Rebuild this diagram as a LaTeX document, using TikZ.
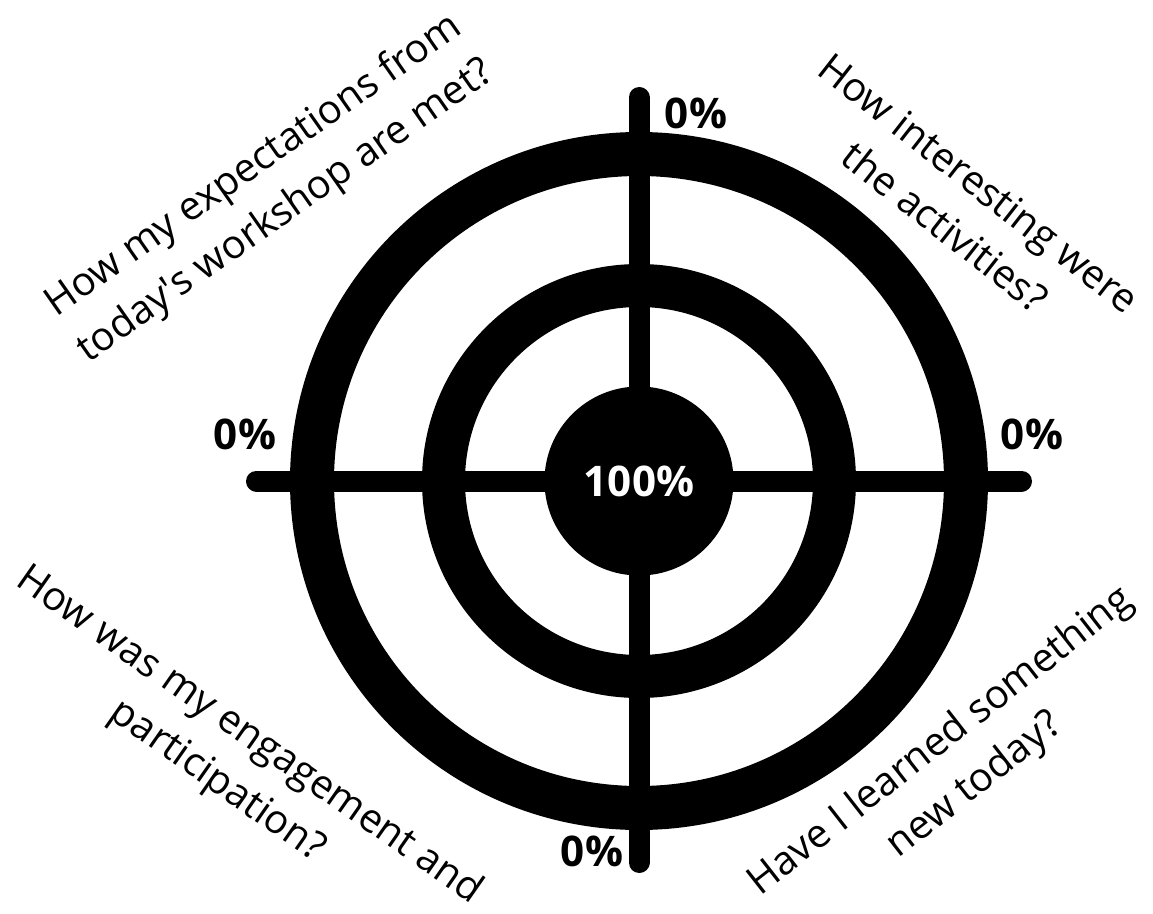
\documentclass[tikz,border=0pt]{standalone}
\usepackage{fontspec}
\setmainfont{Open Sans}
\usetikzlibrary{positioning}

\tikzset{
	question/.style={align=center, inner sep=0pt, font=\fontsize{28.3}{39.5}\selectfont},
	percent/.style={inner sep=0pt, font=\bfseries\fontsize{30}{36}\selectfont},
	ring/.style={draw, line width=#1},
	arm/.style={line width=0.525cm, line cap=round},
}

\begin{document}
\begin{tikzpicture}[x=0.025cm, y=-0.025cm]

	\useasboundingbox (0,0) rectangle (1153,914);

	\coordinate (c) at (639,481);
	\coordinate (n) at (639,97.5);
	\coordinate (s) at (639,862.5);
	\coordinate (w) at (256.5,481);
	\coordinate (e) at (1021.5,481);

	\draw[ring=1.1cm] (c) circle[radius=327];
	\draw[ring=1.075cm] (c) circle[radius=195.5];
	\draw[arm] (n) -- (s) (w) -- (e);
	\node[circle, fill, inner sep=0pt, minimum size=4.725cm, text=white,
		font=\bfseries\fontsize{30}{36}\selectfont] (bull) at (c) {100\%};

	\node[percent] (top) at (696,113) {0\%};
	\node[percent] (left) at (245,434) {0\%};
	\node[percent] (right) at (1032,434) {0\%};
	\node[percent] (bottom) at (592,851) {0\%};

	\node[question, rotate=35] (expect) at (270,189) {How my expectations from\\today\textquotesingle s workshop are met?};
	\node[question, rotate=-38] (interest) at (962,205) {How interesting were\\the activities?};
	\node[question, rotate=-35] (engage) at (233,759) {How was my engagement and\\participation?};
	\node[question, rotate=38] (learn) at (958,764) {Have I learned something\\new today?};

\end{tikzpicture}
\end{document}
